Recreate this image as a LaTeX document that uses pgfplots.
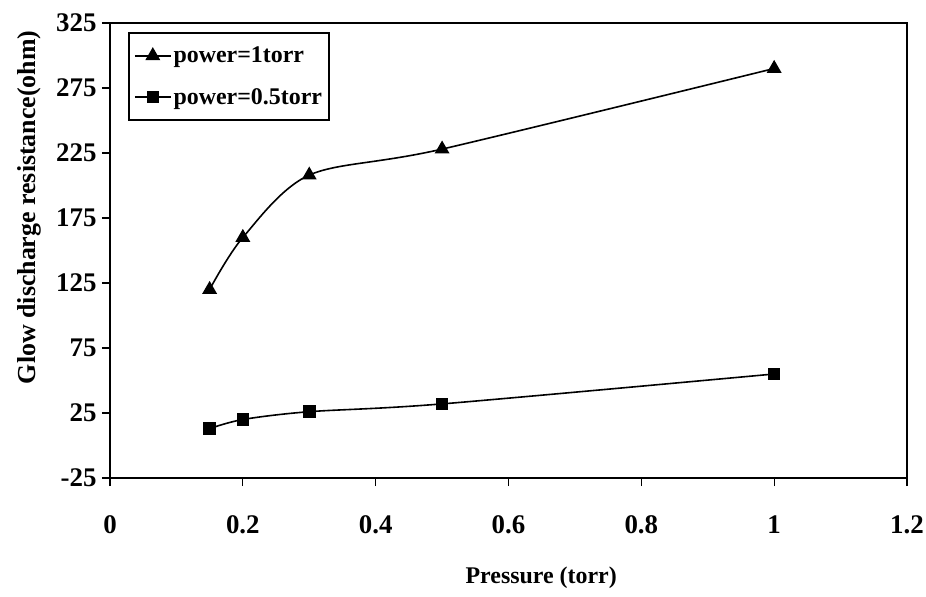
\documentclass[border=0pt]{standalone}
\usepackage{fontspec}
\setmainfont{Liberation Serif}
\usepackage{pgfplots}
\pgfplotsset{compat=1.18}

\begin{document}
\begin{tikzpicture}
\begin{axis}[
  name=ax,
  scale only axis,
  width=797bp, height=455bp,
  xmin=0, xmax=1.2, ymin=-25, ymax=325,
  xtick={0,0.2,0.4,0.6,0.8,1,1.2},
  ytick={-25,25,75,125,175,225,275,325},
  xtick pos=bottom, ytick pos=left,
  tick align=outside,
  major tick length=8bp,
  every tick/.style={black, line width=1.2bp},
  axis line style={line width=2.2bp},
  /pgf/number format/assume math mode=true,
  tick label style={font=\fontsize{27}{27}\selectfont\bfseries},
  xticklabel style={yshift=-26bp},
  yticklabel style={xshift=-2bp},
  xlabel={Pressure (torr)},
  ylabel={Glow discharge resistance(ohm)},
  xlabel style={font=\fontsize{24}{24}\selectfont\bfseries,
    at={(axis description cs:0.541,0)}, anchor=center, yshift=-100bp},
  ylabel style={font=\fontsize{26}{26}\selectfont\bfseries,
    at={(axis description cs:0,0.595)}, anchor=center, yshift=81bp},
  legend style={at={(0.0226,0.980)}, anchor=north west,
    draw=black, line width=2bp, fill=white,
    font=\fontsize{24}{24}\selectfont\bfseries,
    inner xsep=5bp, inner ysep=12bp, row sep=20bp},
  legend cell align=left,
  legend image code/.code={%
    \draw[mark repeat=2, mark phase=2, line width=1.6bp]
      plot coordinates {(0bp,0bp) (18bp,0bp) (36bp,0bp)};},
]

% power = 1 torr
\addplot[black, line width=1.6bp, smooth, mark=triangle*, mark size=7bp,
  mark options={solid, fill=black}] coordinates {
  (0.15,120) (0.2,160) (0.3,208) (0.5,228) (1.0,290)
};
\addlegendentry{power=1torr}

% power = 0.5 torr
\addplot[black, line width=1.6bp, smooth, mark=square*, mark size=5.5bp,
  mark options={solid, fill=black}] coordinates {
  (0.15,13) (0.2,20) (0.3,26) (0.5,32) (1.0,55)
};
\addlegendentry{power=0.5torr}

\end{axis}
\pgfresetboundingbox
\path[use as bounding box] ([shift={(-110bp,-119bp)}]ax.south west)
  rectangle ([shift={(816bp,478bp)}]ax.south west);
\end{tikzpicture}
\end{document}
